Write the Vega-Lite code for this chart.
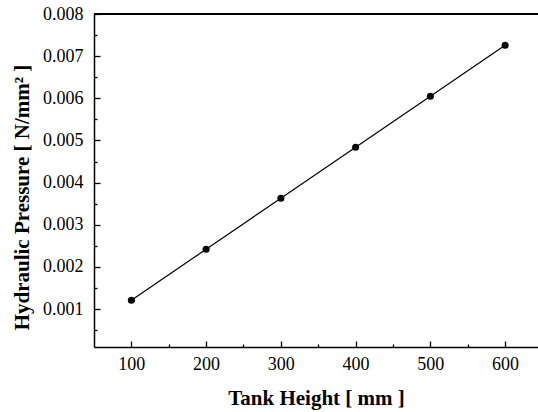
{
  "$schema": "https://vega.github.io/schema/vega-lite/v6.json",
  "width": 444,
  "height": 333,
  "autosize": {"type": "none"},
  "padding": {"left": 94, "top": 14, "right": 0, "bottom": 65},
  "background": "white",
  "config": {
    "view": {"stroke": null},
    "font": "Liberation Serif",
    "axis": {
      "grid": false,
      "domainColor": "black",
      "domainWidth": 1.5,
      "tickColor": "black",
      "tickWidth": 1.3,
      "labelFont": "Liberation Serif",
      "labelFontSize": 18,
      "labelColor": "black",
      "titleFont": "Liberation Serif",
      "titleFontSize": 21,
      "titleFontWeight": "bold",
      "titleColor": "black"
    }
  },
  "data": {
    "values": [
      {"h": 100, "p": 0.00121},
      {"h": 200, "p": 0.00242},
      {"h": 300, "p": 0.00363},
      {"h": 400, "p": 0.00484},
      {"h": 500, "p": 0.00605},
      {"h": 600, "p": 0.00726}
    ]
  },
  "resolve": {"axis": {"x": "independent", "y": "independent"}},
  "layer": [
    {
      "mark": {"type": "line", "color": "black", "strokeWidth": 1.2},
      "encoding": {
        "x": {"field": "h", "type": "quantitative", "scale": {"domain": [50, 644], "nice": false, "zero": false},
          "axis": {"orient": "bottom", "title": "Tank Height  [ mm ]", "values": [100, 200, 300, 400, 500, 600], "format": "d", "tickSize": -6, "labelPadding": 14, "titlePadding": 14, "labelFont": "Liberation Serif", "titleFont": "Liberation Serif"}},
        "y": {"field": "p", "type": "quantitative", "scale": {"domain": [0.0001, 0.008], "nice": false, "zero": false},
          "axis": {"orient": "left", "title": "Hydraulic Pressure  [ N/mm² ]", "values": [0.001, 0.002, 0.003, 0.004, 0.005, 0.006, 0.007, 0.008], "format": ".3f", "tickSize": -6, "labelPadding": 17, "titlePadding": 10, "titleY": 183, "labelFont": "Liberation Serif", "titleFont": "Liberation Serif"}}
      }
    },
    {
      "mark": {"type": "point", "filled": true, "color": "black", "size": 50, "opacity": 1},
      "encoding": {
        "x": {"field": "h", "type": "quantitative",
          "axis": {"orient": "bottom", "title": null, "labels": false, "domain": false, "values": [150, 250, 350, 450, 550], "tickSize": -3}},
        "y": {"field": "p", "type": "quantitative",
          "axis": {"orient": "left", "title": null, "labels": false, "domain": false, "values": [0.0005, 0.0015, 0.0025, 0.0035, 0.0045, 0.0055, 0.0065, 0.0075], "tickSize": -3}}
      }
    },
    {
      "mark": {"type": "rule", "color": "black", "strokeWidth": 1.5},
      "encoding": {"y": {"datum": 0.008, "type": "quantitative", "axis": null}}
    }
  ]
}
